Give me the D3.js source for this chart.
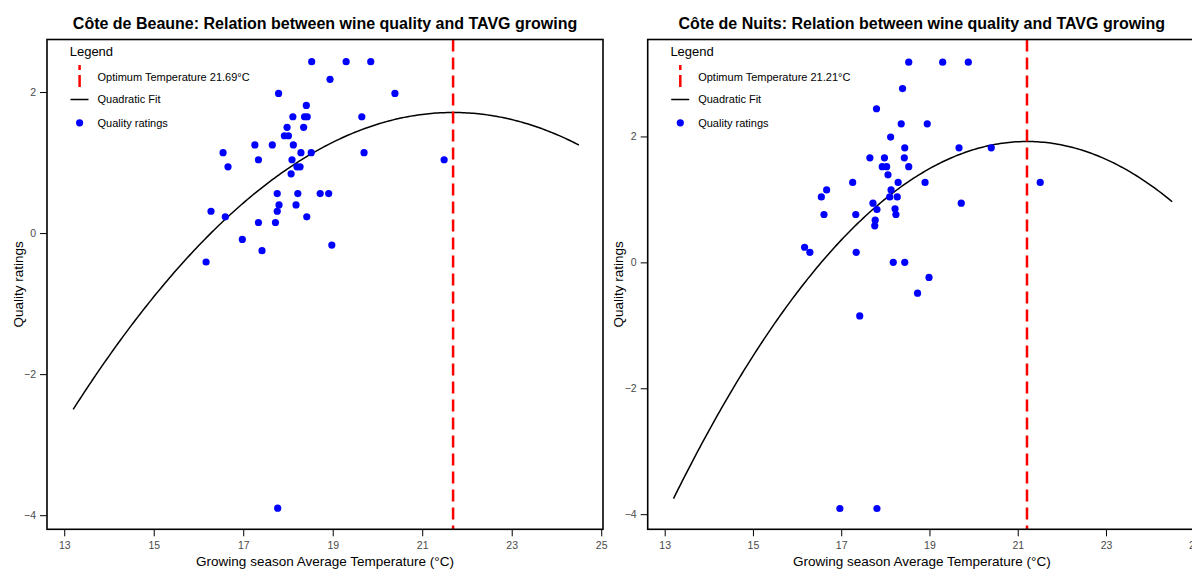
<!DOCTYPE html>
<html>
<head>
<meta charset="utf-8">
<script src="https://cdn.jsdelivr.net/npm/d3@7"></script>
<style>
  body { margin: 0; background: #fff; }
  svg { display: block; font-family: "Liberation Sans", Arial, Helvetica, sans-serif; }
</style>
</head>
<body>
<div id="chart"></div>
<script>
// Côte de Beaune: growing season average temperature (°C) and quality rating
const beauneTemp = [18.53, 19.30, 19.85, 18.94, 17.79, 20.39, 18.41, 18.11, 18.37, 18.43,
  19.65, 17.98, 18.35, 17.92, 18.01, 17.26, 17.65, 18.12, 16.55, 18.29, 18.52, 19.70,
  17.34, 18.09, 21.49, 16.66, 18.20, 18.27, 18.07, 17.76, 18.22, 18.72, 18.91, 17.80,
  18.18, 16.28, 16.60, 17.76, 18.42, 17.34, 17.72, 16.98, 17.42, 18.98, 16.17, 17.77]
const beauneQuality = [2.43, 2.43, 2.43, 2.18, 1.98, 1.98, 1.81, 1.65, 1.65, 1.65,
  1.65, 1.50, 1.50, 1.38, 1.38, 1.25, 1.25, 1.25, 1.14, 1.14, 1.14, 1.14,
  1.04, 1.04, 1.04, 0.94, 0.94, 0.94, 0.84, 0.56, 0.56, 0.56, 0.56, 0.40,
  0.40, 0.31, 0.23, 0.31, 0.23, 0.15, 0.15, -0.09, -0.25, -0.17, -0.41, -3.90]

// Côte de Nuits
const nuitsTemp = [18.53, 19.30, 19.88, 18.39, 17.80, 18.36, 18.95, 18.12, 18.44, 19.67,
  20.40, 17.65, 17.98, 18.43, 17.93, 18.03, 18.53, 18.06, 17.26, 18.29, 18.90, 21.51,
  16.67, 18.13, 16.55, 18.10, 18.27, 17.72, 19.72, 17.81, 18.22, 16.61, 17.33, 18.24,
  17.77, 17.76, 16.17, 16.29, 17.34, 18.18, 18.44, 18.99, 18.73, 17.42, 16.97, 17.81]
const nuitsQuality = [3.18, 3.18, 3.18, 2.76, 2.44, 2.20, 2.20, 1.99, 1.82, 1.82,
  1.82, 1.66, 1.66, 1.66, 1.52, 1.52, 1.52, 1.39, 1.27, 1.27, 1.27, 1.27,
  1.15, 1.15, 1.04, 1.04, 1.04, 0.94, 0.94, 0.84, 0.85, 0.76, 0.76, 0.76,
  0.67, 0.58, 0.24, 0.16, 0.16, 0.00, 0.00, -0.24, -0.49, -0.85, -3.91, -3.91]

// quadratic fits, vertex form: [optimum temperature, peak quality, curvature]
const beauneFit = [21.69, 1.71, -0.0584]
const nuitsFit = [21.21, 1.92, -0.0884]
const fitRange = [13.2, 24.5]

const xTicks = [13, 15, 17, 19, 21, 23, 25]
const yTicks = [-4, -2, 0, 2]

const svg = d3.select("#chart")
  .append("svg")
  .attr("width", 1192)
  .attr("height", 570)

function drawPanel(opts) {
  const { name, temp, quality, fit, left, right, top, bottom, yDomain } = opts

  const x = d3.scaleLinear().domain([12.615, 25.04]).range([left, right])
  const y = d3.scaleLinear().domain(yDomain).range([bottom, top])

  const g = svg.append("g")

  // title
  g.append("text")
    .attr("x", (left + right) / 2)
    .attr("y", 29)
    .attr("text-anchor", "middle")
    .attr("font-weight", "bold")
    .attr("font-size", "16px")
    .text(name + ": Relation between wine quality and TAVG growing")

  // axes
  const fmt = d3.format("d")
  const xAxis = g.append("g")
    .attr("transform", `translate(0,${bottom})`)
    .call(d3.axisBottom(x).tickValues(xTicks).tickFormat(fmt).tickSize(7).tickPadding(5))
  const yAxis = g.append("g")
    .attr("transform", `translate(${left},0)`)
    .call(d3.axisLeft(y).tickValues(yTicks).tickFormat(fmt).tickSize(7).tickPadding(4))

  ;[xAxis, yAxis].forEach(a => {
    a.select(".domain").remove()
    a.selectAll(".tick line").attr("stroke", "#000")
    a.selectAll(".tick text")
      .attr("fill", "#4a4a4a")
      .attr("font-size", "10.5px")
      .attr("font-family", null)
  })

  // axis titles
  g.append("text")
    .attr("x", (left + right) / 2)
    .attr("y", 566)
    .attr("text-anchor", "middle")
    .attr("font-size", "13.5px")
    .text("Growing season Average Temperature (°C)")

  g.append("text")
    .attr("transform", `translate(${left - 24.5},${(top + bottom) / 2}) rotate(-90)`)
    .attr("text-anchor", "middle")
    .attr("font-size", "13.5px")
    .text("Quality ratings")

  // quadratic fit
  const [opt, peak, curv] = fit
  const fitPts = d3.range(fitRange[0], fitRange[1] + 0.001, 0.05)
    .map(t => [t, peak + curv * (t - opt) * (t - opt)])
  g.append("path")
    .datum(fitPts)
    .attr("fill", "none")
    .attr("stroke", "#000")
    .attr("stroke-width", 1.5)
    .attr("d", d3.line().x(d => x(d[0])).y(d => y(d[1])))

  // optimum temperature
  g.append("line")
    .attr("x1", x(opt)).attr("x2", x(opt))
    .attr("y1", top).attr("y2", bottom)
    .attr("stroke", "#ff0000")
    .attr("stroke-width", 2.5)
    .attr("stroke-dasharray", "12,6")

  // points
  g.append("g")
    .selectAll("circle")
    .data(temp.map((t, i) => [t, quality[i]]))
    .enter()
    .append("circle")
    .attr("cx", d => x(d[0]))
    .attr("cy", d => y(d[1]))
    .attr("r", 3.6)
    .attr("fill", "#0000ff")

  // box
  g.append("rect")
    .attr("x", left).attr("y", top)
    .attr("width", right - left).attr("height", bottom - top)
    .attr("fill", "none")
    .attr("stroke", "#000")
    .attr("stroke-width", 1.6)

  // legend
  const lg = g.append("g").attr("transform", `translate(${left},${top})`)
  lg.append("text")
    .attr("x", 22.7).attr("y", 16)
    .attr("font-size", "13px")
    .text("Legend")

  lg.append("line")
    .attr("x1", 32.6).attr("x2", 32.6)
    .attr("y1", 25.5).attr("y2", 48.5)
    .attr("stroke", "#ff0000")
    .attr("stroke-width", 2.5)
    .attr("stroke-dasharray", "12,5")
    .attr("stroke-dashoffset", 7)

  lg.append("line")
    .attr("x1", 23.5).attr("x2", 41.5)
    .attr("y1", 60).attr("y2", 60)
    .attr("stroke", "#000")
    .attr("stroke-width", 1.5)

  lg.append("circle")
    .attr("cx", 32.6).attr("cy", 83.3)
    .attr("r", 3.6)
    .attr("fill", "#0000ff")

  const labels = ["Optimum Temperature " + opt.toFixed(2) + "°C", "Quadratic Fit", "Quality ratings"]
  lg.selectAll(".lab")
    .data(labels)
    .enter()
    .append("text")
    .attr("class", "lab")
    .attr("x", 50.5)
    .attr("y", (d, i) => [38, 60, 83.3][i])
    .attr("dy", "0.35em")
    .attr("font-size", "11px")
    .text(d => d)
}

drawPanel({
  name: "Côte de Beaune", temp: beauneTemp, quality: beauneQuality, fit: beauneFit,
  left: 47, right: 603, top: 39.5, bottom: 529.3, yDomain: [-4.2, 2.745]
})

drawPanel({
  name: "Côte de Nuits", temp: nuitsTemp, quality: nuitsQuality, fit: nuitsFit,
  left: 647.7, right: 1196, top: 39.5, bottom: 529.3, yDomain: [-4.24, 3.54]
})
</script>
</body>
</html>
